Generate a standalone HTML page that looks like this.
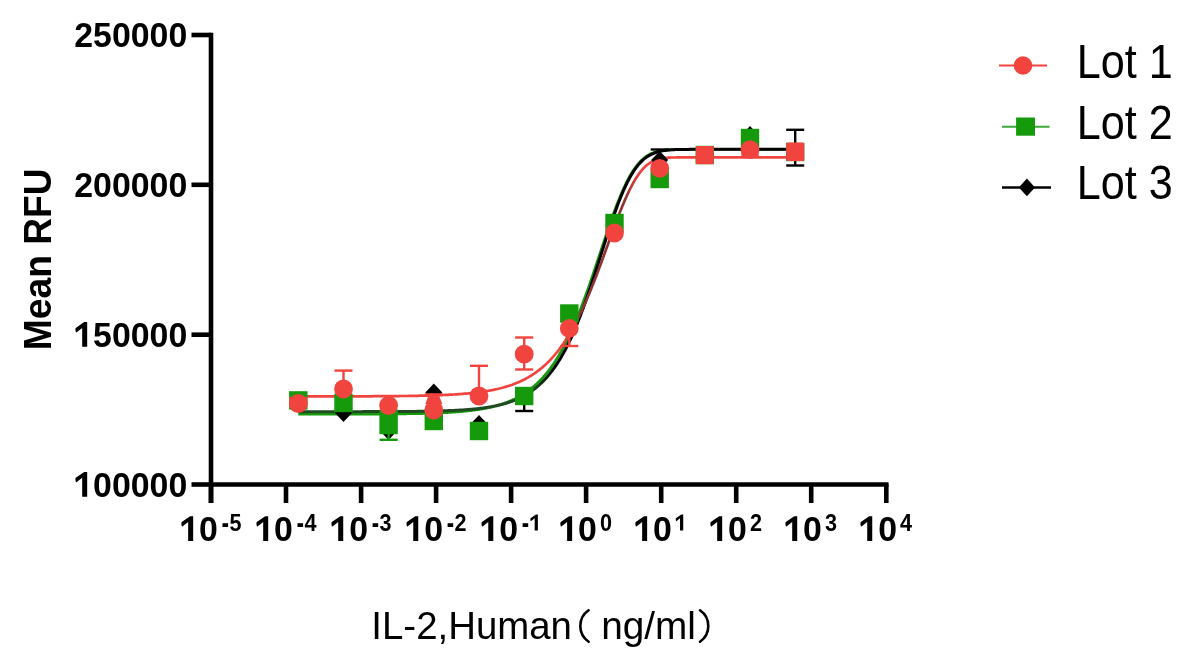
<!DOCTYPE html>
<html><head><meta charset="utf-8"><style>
html,body{margin:0;padding:0;background:#fff;overflow:hidden;}
svg{display:block;filter:blur(0.45px);}
text{font-family:"Liberation Sans",sans-serif;fill:#000;}
</style></head><body>
<svg width="1185" height="660" viewBox="0 0 1185 660">

<defs><linearGradient id="rg" gradientUnits="userSpaceOnUse" x1="0" y1="150" x2="0" y2="400">
<stop offset="0" stop-color="#F2443F"/><stop offset="0.08" stop-color="#F2443F"/><stop offset="0.2" stop-color="#8E3432"/><stop offset="0.66" stop-color="#8E3432"/><stop offset="0.78" stop-color="#F2443F"/><stop offset="1" stop-color="#F2443F"/></linearGradient>
<linearGradient id="kg" gradientUnits="userSpaceOnUse" x1="0" y1="150" x2="0" y2="420">
<stop offset="0" stop-color="#000"/><stop offset="0.8" stop-color="#000"/><stop offset="0.9" stop-color="#1F4A22"/><stop offset="1" stop-color="#1F4A22"/></linearGradient></defs>
<path d="M298.3,414.2 L299.3,414.2 L300.3,414.2 L301.3,414.2 L302.3,414.2 L303.3,414.2 L304.3,414.2 L305.3,414.2 L306.3,414.2 L307.3,414.2 L308.3,414.2 L309.3,414.2 L310.3,414.2 L311.3,414.2 L312.3,414.2 L313.3,414.2 L314.3,414.2 L315.3,414.2 L316.3,414.2 L317.3,414.2 L318.3,414.2 L319.3,414.2 L320.3,414.2 L321.3,414.2 L322.3,414.2 L323.3,414.2 L324.3,414.2 L325.3,414.2 L326.3,414.2 L327.3,414.2 L328.3,414.2 L329.3,414.2 L330.3,414.2 L331.3,414.2 L332.3,414.2 L333.3,414.2 L334.3,414.2 L335.3,414.2 L336.3,414.2 L337.3,414.2 L338.3,414.2 L339.3,414.2 L340.3,414.1 L341.3,414.1 L342.3,414.1 L343.3,414.1 L344.3,414.1 L345.3,414.1 L346.3,414.1 L347.3,414.1 L348.3,414.1 L349.3,414.1 L350.3,414.1 L351.3,414.1 L352.3,414.1 L353.3,414.1 L354.3,414.1 L355.3,414.1 L356.3,414.1 L357.3,414.1 L358.3,414.1 L359.3,414.1 L360.3,414.1 L361.3,414.1 L362.3,414.1 L363.3,414.1 L364.3,414.1 L365.3,414.1 L366.3,414.1 L367.3,414.1 L368.3,414.1 L369.3,414.1 L370.3,414.1 L371.3,414.1 L372.3,414.1 L373.3,414.1 L374.3,414.0 L375.3,414.0 L376.3,414.0 L377.3,414.0 L378.3,414.0 L379.3,414.0 L380.3,414.0 L381.3,414.0 L382.3,414.0 L383.3,414.0 L384.3,414.0 L385.3,414.0 L386.3,414.0 L387.3,414.0 L388.3,414.0 L389.3,413.9 L390.3,413.9 L391.3,413.9 L392.3,413.9 L393.3,413.9 L394.3,413.9 L395.3,413.9 L396.3,413.9 L397.3,413.9 L398.3,413.9 L399.3,413.8 L400.3,413.8 L401.3,413.8 L402.3,413.8 L403.3,413.8 L404.3,413.8 L405.3,413.8 L406.3,413.8 L407.3,413.7 L408.3,413.7 L409.3,413.7 L410.3,413.7 L411.3,413.7 L412.3,413.7 L413.3,413.6 L414.3,413.6 L415.3,413.6 L416.3,413.6 L417.3,413.6 L418.3,413.5 L419.3,413.5 L420.3,413.5 L421.3,413.5 L422.3,413.5 L423.3,413.4 L424.3,413.4 L425.3,413.4 L426.3,413.3 L427.3,413.3 L428.3,413.3 L429.3,413.3 L430.3,413.2 L431.3,413.2 L432.3,413.2 L433.3,413.1 L434.3,413.1 L435.3,413.1 L436.3,413.0 L437.3,413.0 L438.3,412.9 L439.3,412.9 L440.3,412.9 L441.3,412.8 L442.3,412.8 L443.3,412.7 L444.3,412.7 L445.3,412.6 L446.3,412.6 L447.3,412.5 L448.3,412.4 L449.3,412.4 L450.3,412.3 L451.3,412.3 L452.3,412.2 L453.3,412.1 L454.3,412.1 L455.3,412.0 L456.3,411.9 L457.3,411.8 L458.3,411.8 L459.3,411.7 L460.3,411.6 L461.3,411.5 L462.3,411.4 L463.3,411.3 L464.3,411.2 L465.3,411.1 L466.3,411.0 L467.3,410.9 L468.3,410.8 L469.3,410.7 L470.3,410.6 L471.3,410.5 L472.3,410.3 L473.3,410.2 L474.3,410.1 L475.3,409.9 L476.3,409.8 L477.3,409.7 L478.3,409.5 L479.3,409.4 L480.3,409.2 L481.3,409.0 L482.3,408.9 L483.3,408.7 L484.3,408.5 L485.3,408.3 L486.3,408.1 L487.3,407.9 L488.3,407.7 L489.3,407.5 L490.3,407.3 L491.3,407.0 L492.3,406.8 L493.3,406.6 L494.3,406.3 L495.3,406.0 L496.3,405.8 L497.3,405.5 L498.3,405.2 L499.3,404.9 L500.3,404.6 L501.3,404.3 L502.3,404.0 L503.3,403.6 L504.3,403.3 L505.3,402.9 L506.3,402.6 L507.3,402.2 L508.3,401.8 L509.3,401.4 L510.3,401.0 L511.3,400.6 L512.3,400.1 L513.3,399.6 L514.3,399.2 L515.3,398.7 L516.3,398.2 L517.3,397.7 L518.3,397.1 L519.3,396.6 L520.3,396.0 L521.3,395.4 L522.3,394.8 L523.3,394.2 L524.3,393.6 L525.3,392.9 L526.3,392.2 L527.3,391.5 L528.3,390.8 L529.3,390.1 L530.3,389.3 L531.3,388.5 L532.3,387.7 L533.3,386.9 L534.3,386.0 L535.3,385.1 L536.3,384.2 L537.3,383.3 L538.3,382.3 L539.3,381.3 L540.3,380.3 L541.3,379.3 L542.3,378.2 L543.3,377.1 L544.3,375.9 L545.3,374.8 L546.3,373.6 L547.3,372.3 L548.3,371.1 L549.3,369.8 L550.3,368.4 L551.3,367.0 L552.3,365.6 L553.3,364.2 L554.3,362.7 L555.3,361.2 L556.3,359.6 L557.3,358.0 L558.3,356.4 L559.3,354.7 L560.3,353.0 L561.3,351.3 L562.3,349.5 L563.3,347.6 L564.3,345.7 L565.3,343.8 L566.3,341.9 L567.3,339.9 L568.3,337.8 L569.3,335.7 L570.3,333.6 L571.3,331.4 L572.3,329.2 L573.3,326.9 L574.3,324.6 L575.3,322.3 L576.3,319.9 L577.3,317.4 L578.3,315.0 L579.3,312.5 L580.3,309.9 L581.3,307.3 L582.3,304.7 L583.3,302.0 L584.3,299.3 L585.3,296.6 L586.3,293.8 L587.3,291.1 L588.3,288.2 L589.3,285.4 L590.3,282.5 L591.3,279.6 L592.3,276.7 L593.3,273.7 L594.3,270.7 L595.3,267.7 L596.3,264.8 L597.3,261.7 L598.3,258.7 L599.3,255.7 L600.3,252.7 L601.3,249.6 L602.3,246.6 L603.3,243.6 L604.3,240.6 L605.3,237.6 L606.3,234.6 L607.3,231.6 L608.3,228.7 L609.3,225.8 L610.3,222.9 L611.3,220.0 L612.3,217.2 L613.3,214.4 L614.3,211.7 L615.3,209.0 L616.3,206.3 L617.3,203.7 L618.3,201.2 L619.3,198.7 L620.3,196.2 L621.3,193.8 L622.3,191.5 L623.3,189.3 L624.3,187.1 L625.3,185.0 L626.3,182.9 L627.3,180.9 L628.3,179.0 L629.3,177.2 L630.3,175.4 L631.3,173.7 L632.3,172.1 L633.3,170.5 L634.3,169.0 L635.3,167.6 L636.3,166.3 L637.3,165.0 L638.3,163.8 L639.3,162.7 L640.3,161.6 L641.3,160.6 L642.3,159.7 L643.3,158.8 L644.3,158.0 L645.3,157.2 L646.3,156.5 L647.3,155.8 L648.3,155.2 L649.3,154.6 L650.3,154.1 L651.3,153.6 L652.3,153.2 L653.3,152.8 L654.3,152.4 L655.3,152.1 L656.3,151.8 L657.3,151.5 L658.3,151.2 L659.3,151.0 L660.3,150.8 L661.3,150.6 L662.3,150.5 L663.3,150.3 L664.3,150.2 L665.3,150.1 L666.3,150.0 L667.3,149.9 L668.3,149.8 L669.3,149.7 L670.3,149.7 L671.3,149.6 L672.3,149.6 L673.3,149.5 L674.3,149.5 L675.3,149.5 L676.3,149.5 L677.3,149.4 L678.3,149.4 L679.3,149.4 L680.3,149.4 L681.3,149.4 L682.3,149.4 L683.3,149.3 L684.3,149.3 L685.3,149.3 L686.3,149.3 L687.3,149.3 L688.3,149.3 L689.3,149.3 L690.3,149.3 L691.3,149.3 L692.3,149.3 L693.3,149.3 L694.3,149.3 L695.3,149.3 L696.3,149.3 L697.3,149.3 L698.3,149.3 L699.3,149.3 L700.3,149.3 L701.3,149.3 L702.3,149.3 L703.3,149.3 L704.3,149.3 L705.3,149.3 L706.3,149.3 L707.3,149.3 L708.3,149.3 L709.3,149.3 L710.3,149.3 L711.3,149.3 L712.3,149.3 L713.3,149.3 L714.3,149.3 L715.3,149.3 L716.3,149.3 L717.3,149.3 L718.3,149.3 L719.3,149.3 L720.3,149.3 L721.3,149.3 L722.3,149.3 L723.3,149.3 L724.3,149.3 L725.3,149.3 L726.3,149.3 L727.3,149.3 L728.3,149.3 L729.3,149.3 L730.3,149.3 L731.3,149.3 L732.3,149.3 L733.3,149.3 L734.3,149.3 L735.3,149.3 L736.3,149.3 L737.3,149.3 L738.3,149.3 L739.3,149.3 L740.3,149.3 L741.3,149.3 L742.3,149.3 L743.3,149.3 L744.3,149.3 L745.3,149.3 L746.3,149.3 L747.3,149.3 L748.3,149.3 L749.3,149.3 L750.3,149.3 L751.3,149.3 L752.3,149.3 L753.3,149.3 L754.3,149.3 L755.3,149.3 L756.3,149.3 L757.3,149.3 L758.3,149.3 L759.3,149.3 L760.3,149.3 L761.3,149.3 L762.3,149.3 L763.3,149.3 L764.3,149.3 L765.3,149.3 L766.3,149.3 L767.3,149.3 L768.3,149.3 L769.3,149.3 L770.3,149.3 L771.3,149.3 L772.3,149.3 L773.3,149.3 L774.3,149.3 L775.3,149.3 L776.3,149.3 L777.3,149.3 L778.3,149.3 L779.3,149.3 L780.3,149.3 L781.3,149.3 L782.3,149.3 L783.3,149.3 L784.3,149.3 L785.3,149.3 L786.3,149.3 L787.3,149.3 L788.3,149.3 L789.3,149.3 L790.3,149.3 L791.3,149.3 L792.3,149.3 L793.3,149.3 L794.3,149.3" fill="none" stroke="#159A0C" stroke-width="2.8" stroke-linejoin="round" stroke-linecap="butt"/>
<path d="M298.3,411.7 L299.3,411.7 L300.3,411.7 L301.3,411.7 L302.3,411.7 L303.3,411.7 L304.3,411.7 L305.3,411.7 L306.3,411.7 L307.3,411.7 L308.3,411.7 L309.3,411.7 L310.3,411.7 L311.3,411.7 L312.3,411.7 L313.3,411.7 L314.3,411.7 L315.3,411.7 L316.3,411.7 L317.3,411.7 L318.3,411.7 L319.3,411.7 L320.3,411.7 L321.3,411.7 L322.3,411.7 L323.3,411.7 L324.3,411.7 L325.3,411.7 L326.3,411.7 L327.3,411.7 L328.3,411.7 L329.3,411.7 L330.3,411.7 L331.3,411.7 L332.3,411.7 L333.3,411.7 L334.3,411.7 L335.3,411.7 L336.3,411.7 L337.3,411.7 L338.3,411.7 L339.3,411.7 L340.3,411.7 L341.3,411.7 L342.3,411.7 L343.3,411.7 L344.3,411.7 L345.3,411.7 L346.3,411.7 L347.3,411.7 L348.3,411.7 L349.3,411.7 L350.3,411.7 L351.3,411.7 L352.3,411.7 L353.3,411.7 L354.3,411.7 L355.3,411.7 L356.3,411.7 L357.3,411.7 L358.3,411.7 L359.3,411.7 L360.3,411.7 L361.3,411.7 L362.3,411.7 L363.3,411.6 L364.3,411.6 L365.3,411.6 L366.3,411.6 L367.3,411.6 L368.3,411.6 L369.3,411.6 L370.3,411.6 L371.3,411.6 L372.3,411.6 L373.3,411.6 L374.3,411.6 L375.3,411.6 L376.3,411.6 L377.3,411.6 L378.3,411.6 L379.3,411.6 L380.3,411.6 L381.3,411.6 L382.3,411.6 L383.3,411.6 L384.3,411.6 L385.3,411.6 L386.3,411.6 L387.3,411.6 L388.3,411.6 L389.3,411.6 L390.3,411.6 L391.3,411.6 L392.3,411.6 L393.3,411.6 L394.3,411.5 L395.3,411.5 L396.3,411.5 L397.3,411.5 L398.3,411.5 L399.3,411.5 L400.3,411.5 L401.3,411.5 L402.3,411.5 L403.3,411.5 L404.3,411.5 L405.3,411.5 L406.3,411.5 L407.3,411.5 L408.3,411.4 L409.3,411.4 L410.3,411.4 L411.3,411.4 L412.3,411.4 L413.3,411.4 L414.3,411.4 L415.3,411.4 L416.3,411.4 L417.3,411.3 L418.3,411.3 L419.3,411.3 L420.3,411.3 L421.3,411.3 L422.3,411.3 L423.3,411.3 L424.3,411.2 L425.3,411.2 L426.3,411.2 L427.3,411.2 L428.3,411.2 L429.3,411.2 L430.3,411.1 L431.3,411.1 L432.3,411.1 L433.3,411.1 L434.3,411.1 L435.3,411.0 L436.3,411.0 L437.3,411.0 L438.3,411.0 L439.3,410.9 L440.3,410.9 L441.3,410.9 L442.3,410.8 L443.3,410.8 L444.3,410.8 L445.3,410.7 L446.3,410.7 L447.3,410.7 L448.3,410.6 L449.3,410.6 L450.3,410.6 L451.3,410.5 L452.3,410.5 L453.3,410.4 L454.3,410.4 L455.3,410.3 L456.3,410.3 L457.3,410.2 L458.3,410.2 L459.3,410.1 L460.3,410.1 L461.3,410.0 L462.3,409.9 L463.3,409.9 L464.3,409.8 L465.3,409.7 L466.3,409.7 L467.3,409.6 L468.3,409.5 L469.3,409.4 L470.3,409.3 L471.3,409.3 L472.3,409.2 L473.3,409.1 L474.3,409.0 L475.3,408.9 L476.3,408.8 L477.3,408.7 L478.3,408.6 L479.3,408.4 L480.3,408.3 L481.3,408.2 L482.3,408.1 L483.3,407.9 L484.3,407.8 L485.3,407.7 L486.3,407.5 L487.3,407.4 L488.3,407.2 L489.3,407.0 L490.3,406.9 L491.3,406.7 L492.3,406.5 L493.3,406.3 L494.3,406.1 L495.3,405.9 L496.3,405.7 L497.3,405.5 L498.3,405.3 L499.3,405.1 L500.3,404.8 L501.3,404.6 L502.3,404.3 L503.3,404.0 L504.3,403.8 L505.3,403.5 L506.3,403.2 L507.3,402.9 L508.3,402.6 L509.3,402.2 L510.3,401.9 L511.3,401.5 L512.3,401.2 L513.3,400.8 L514.3,400.4 L515.3,400.0 L516.3,399.6 L517.3,399.2 L518.3,398.7 L519.3,398.3 L520.3,397.8 L521.3,397.3 L522.3,396.8 L523.3,396.3 L524.3,395.7 L525.3,395.1 L526.3,394.6 L527.3,394.0 L528.3,393.3 L529.3,392.7 L530.3,392.0 L531.3,391.3 L532.3,390.6 L533.3,389.9 L534.3,389.1 L535.3,388.4 L536.3,387.5 L537.3,386.7 L538.3,385.9 L539.3,385.0 L540.3,384.0 L541.3,383.1 L542.3,382.1 L543.3,381.1 L544.3,380.1 L545.3,379.0 L546.3,377.9 L547.3,376.8 L548.3,375.6 L549.3,374.4 L550.3,373.1 L551.3,371.9 L552.3,370.5 L553.3,369.2 L554.3,367.8 L555.3,366.4 L556.3,364.9 L557.3,363.4 L558.3,361.8 L559.3,360.2 L560.3,358.6 L561.3,356.9 L562.3,355.1 L563.3,353.4 L564.3,351.5 L565.3,349.7 L566.3,347.8 L567.3,345.8 L568.3,343.8 L569.3,341.7 L570.3,339.6 L571.3,337.5 L572.3,335.3 L573.3,333.0 L574.3,330.7 L575.3,328.4 L576.3,326.0 L577.3,323.5 L578.3,321.0 L579.3,318.5 L580.3,315.9 L581.3,313.3 L582.3,310.6 L583.3,307.9 L584.3,305.2 L585.3,302.4 L586.3,299.5 L587.3,296.7 L588.3,293.8 L589.3,290.8 L590.3,287.9 L591.3,284.9 L592.3,281.8 L593.3,278.8 L594.3,275.7 L595.3,272.6 L596.3,269.5 L597.3,266.4 L598.3,263.2 L599.3,260.1 L600.3,256.9 L601.3,253.8 L602.3,250.6 L603.3,247.5 L604.3,244.4 L605.3,241.2 L606.3,238.1 L607.3,235.0 L608.3,232.0 L609.3,228.9 L610.3,225.9 L611.3,222.9 L612.3,220.0 L613.3,217.1 L614.3,214.2 L615.3,211.4 L616.3,208.7 L617.3,206.0 L618.3,203.3 L619.3,200.7 L620.3,198.2 L621.3,195.7 L622.3,193.3 L623.3,191.0 L624.3,188.8 L625.3,186.6 L626.3,184.5 L627.3,182.4 L628.3,180.5 L629.3,178.6 L630.3,176.8 L631.3,175.0 L632.3,173.3 L633.3,171.8 L634.3,170.2 L635.3,168.8 L636.3,167.4 L637.3,166.1 L638.3,164.9 L639.3,163.7 L640.3,162.6 L641.3,161.6 L642.3,160.6 L643.3,159.7 L644.3,158.9 L645.3,158.1 L646.3,157.3 L647.3,156.6 L648.3,156.0 L649.3,155.4 L650.3,154.9 L651.3,154.4 L652.3,153.9 L653.3,153.5 L654.3,153.1 L655.3,152.7 L656.3,152.4 L657.3,152.1 L658.3,151.8 L659.3,151.5 L660.3,151.3 L661.3,151.1 L662.3,150.9 L663.3,150.7 L664.3,150.6 L665.3,150.4 L666.3,150.3 L667.3,150.2 L668.3,150.1 L669.3,150.0 L670.3,149.9 L671.3,149.8 L672.3,149.8 L673.3,149.7 L674.3,149.7 L675.3,149.6 L676.3,149.6 L677.3,149.6 L678.3,149.5 L679.3,149.5 L680.3,149.5 L681.3,149.4 L682.3,149.4 L683.3,149.4 L684.3,149.4 L685.3,149.4 L686.3,149.4 L687.3,149.4 L688.3,149.4 L689.3,149.3 L690.3,149.3 L691.3,149.3 L692.3,149.3 L693.3,149.3 L694.3,149.3 L695.3,149.3 L696.3,149.3 L697.3,149.3 L698.3,149.3 L699.3,149.3 L700.3,149.3 L701.3,149.3 L702.3,149.3 L703.3,149.3 L704.3,149.3 L705.3,149.3 L706.3,149.3 L707.3,149.3 L708.3,149.3 L709.3,149.3 L710.3,149.3 L711.3,149.3 L712.3,149.3 L713.3,149.3 L714.3,149.3 L715.3,149.3 L716.3,149.3 L717.3,149.3 L718.3,149.3 L719.3,149.3 L720.3,149.3 L721.3,149.3 L722.3,149.3 L723.3,149.3 L724.3,149.3 L725.3,149.3 L726.3,149.3 L727.3,149.3 L728.3,149.3 L729.3,149.3 L730.3,149.3 L731.3,149.3 L732.3,149.3 L733.3,149.3 L734.3,149.3 L735.3,149.3 L736.3,149.3 L737.3,149.3 L738.3,149.3 L739.3,149.3 L740.3,149.3 L741.3,149.3 L742.3,149.3 L743.3,149.3 L744.3,149.3 L745.3,149.3 L746.3,149.3 L747.3,149.3 L748.3,149.3 L749.3,149.3 L750.3,149.3 L751.3,149.3 L752.3,149.3 L753.3,149.3 L754.3,149.3 L755.3,149.3 L756.3,149.3 L757.3,149.3 L758.3,149.3 L759.3,149.3 L760.3,149.3 L761.3,149.3 L762.3,149.3 L763.3,149.3 L764.3,149.3 L765.3,149.3 L766.3,149.3 L767.3,149.3 L768.3,149.3 L769.3,149.3 L770.3,149.3 L771.3,149.3 L772.3,149.3 L773.3,149.3 L774.3,149.3 L775.3,149.3 L776.3,149.3 L777.3,149.3 L778.3,149.3 L779.3,149.3 L780.3,149.3 L781.3,149.3 L782.3,149.3 L783.3,149.3 L784.3,149.3 L785.3,149.3 L786.3,149.3 L787.3,149.3 L788.3,149.3 L789.3,149.3 L790.3,149.3 L791.3,149.3 L792.3,149.3 L793.3,149.3 L794.3,149.3" fill="none" stroke="url(#kg)" stroke-width="3.0" stroke-linejoin="round" stroke-linecap="butt"/>
<path d="M298.3,396.4 L299.3,396.4 L300.3,396.4 L301.3,396.4 L302.3,396.4 L303.3,396.4 L304.3,396.4 L305.3,396.4 L306.3,396.4 L307.3,396.4 L308.3,396.4 L309.3,396.4 L310.3,396.4 L311.3,396.4 L312.3,396.4 L313.3,396.4 L314.3,396.4 L315.3,396.4 L316.3,396.4 L317.3,396.4 L318.3,396.4 L319.3,396.4 L320.3,396.4 L321.3,396.4 L322.3,396.4 L323.3,396.4 L324.3,396.4 L325.3,396.4 L326.3,396.4 L327.3,396.4 L328.3,396.4 L329.3,396.4 L330.3,396.4 L331.3,396.4 L332.3,396.4 L333.3,396.4 L334.3,396.4 L335.3,396.4 L336.3,396.4 L337.3,396.4 L338.3,396.3 L339.3,396.3 L340.3,396.3 L341.3,396.3 L342.3,396.3 L343.3,396.3 L344.3,396.3 L345.3,396.3 L346.3,396.3 L347.3,396.3 L348.3,396.3 L349.3,396.3 L350.3,396.3 L351.3,396.3 L352.3,396.3 L353.3,396.3 L354.3,396.3 L355.3,396.3 L356.3,396.3 L357.3,396.3 L358.3,396.3 L359.3,396.3 L360.3,396.3 L361.3,396.3 L362.3,396.3 L363.3,396.3 L364.3,396.3 L365.3,396.3 L366.3,396.3 L367.3,396.3 L368.3,396.3 L369.3,396.3 L370.3,396.3 L371.3,396.3 L372.3,396.3 L373.3,396.2 L374.3,396.2 L375.3,396.2 L376.3,396.2 L377.3,396.2 L378.3,396.2 L379.3,396.2 L380.3,396.2 L381.3,396.2 L382.3,396.2 L383.3,396.2 L384.3,396.2 L385.3,396.2 L386.3,396.2 L387.3,396.2 L388.3,396.2 L389.3,396.1 L390.3,396.1 L391.3,396.1 L392.3,396.1 L393.3,396.1 L394.3,396.1 L395.3,396.1 L396.3,396.1 L397.3,396.1 L398.3,396.1 L399.3,396.1 L400.3,396.0 L401.3,396.0 L402.3,396.0 L403.3,396.0 L404.3,396.0 L405.3,396.0 L406.3,396.0 L407.3,396.0 L408.3,395.9 L409.3,395.9 L410.3,395.9 L411.3,395.9 L412.3,395.9 L413.3,395.9 L414.3,395.8 L415.3,395.8 L416.3,395.8 L417.3,395.8 L418.3,395.8 L419.3,395.7 L420.3,395.7 L421.3,395.7 L422.3,395.7 L423.3,395.7 L424.3,395.6 L425.3,395.6 L426.3,395.6 L427.3,395.6 L428.3,395.5 L429.3,395.5 L430.3,395.5 L431.3,395.5 L432.3,395.4 L433.3,395.4 L434.3,395.4 L435.3,395.3 L436.3,395.3 L437.3,395.3 L438.3,395.2 L439.3,395.2 L440.3,395.1 L441.3,395.1 L442.3,395.1 L443.3,395.0 L444.3,395.0 L445.3,394.9 L446.3,394.9 L447.3,394.8 L448.3,394.8 L449.3,394.7 L450.3,394.7 L451.3,394.6 L452.3,394.6 L453.3,394.5 L454.3,394.5 L455.3,394.4 L456.3,394.3 L457.3,394.3 L458.3,394.2 L459.3,394.1 L460.3,394.1 L461.3,394.0 L462.3,393.9 L463.3,393.8 L464.3,393.7 L465.3,393.7 L466.3,393.6 L467.3,393.5 L468.3,393.4 L469.3,393.3 L470.3,393.2 L471.3,393.1 L472.3,393.0 L473.3,392.9 L474.3,392.8 L475.3,392.7 L476.3,392.5 L477.3,392.4 L478.3,392.3 L479.3,392.2 L480.3,392.0 L481.3,391.9 L482.3,391.7 L483.3,391.6 L484.3,391.5 L485.3,391.3 L486.3,391.1 L487.3,391.0 L488.3,390.8 L489.3,390.6 L490.3,390.4 L491.3,390.3 L492.3,390.1 L493.3,389.9 L494.3,389.7 L495.3,389.4 L496.3,389.2 L497.3,389.0 L498.3,388.8 L499.3,388.5 L500.3,388.3 L501.3,388.0 L502.3,387.8 L503.3,387.5 L504.3,387.2 L505.3,386.9 L506.3,386.6 L507.3,386.3 L508.3,386.0 L509.3,385.7 L510.3,385.4 L511.3,385.0 L512.3,384.7 L513.3,384.3 L514.3,383.9 L515.3,383.5 L516.3,383.1 L517.3,382.7 L518.3,382.3 L519.3,381.9 L520.3,381.4 L521.3,381.0 L522.3,380.5 L523.3,380.0 L524.3,379.5 L525.3,379.0 L526.3,378.4 L527.3,377.9 L528.3,377.3 L529.3,376.7 L530.3,376.1 L531.3,375.5 L532.3,374.9 L533.3,374.2 L534.3,373.6 L535.3,372.9 L536.3,372.2 L537.3,371.4 L538.3,370.7 L539.3,369.9 L540.3,369.1 L541.3,368.3 L542.3,367.5 L543.3,366.6 L544.3,365.7 L545.3,364.8 L546.3,363.9 L547.3,362.9 L548.3,361.9 L549.3,360.9 L550.3,359.9 L551.3,358.8 L552.3,357.7 L553.3,356.6 L554.3,355.4 L555.3,354.3 L556.3,353.0 L557.3,351.8 L558.3,350.5 L559.3,349.2 L560.3,347.9 L561.3,346.5 L562.3,345.1 L563.3,343.7 L564.3,342.2 L565.3,340.7 L566.3,339.1 L567.3,337.6 L568.3,335.9 L569.3,334.3 L570.3,332.6 L571.3,330.9 L572.3,329.1 L573.3,327.3 L574.3,325.5 L575.3,323.6 L576.3,321.7 L577.3,319.7 L578.3,317.7 L579.3,315.7 L580.3,313.7 L581.3,311.6 L582.3,309.4 L583.3,307.2 L584.3,305.0 L585.3,302.8 L586.3,300.5 L587.3,298.2 L588.3,295.8 L589.3,293.4 L590.3,291.0 L591.3,288.6 L592.3,286.1 L593.3,283.6 L594.3,281.0 L595.3,278.5 L596.3,275.9 L597.3,273.2 L598.3,270.6 L599.3,267.9 L600.3,265.3 L601.3,262.6 L602.3,259.8 L603.3,257.1 L604.3,254.4 L605.3,251.6 L606.3,248.9 L607.3,246.1 L608.3,243.4 L609.3,240.6 L610.3,237.8 L611.3,235.1 L612.3,232.4 L613.3,229.7 L614.3,227.0 L615.3,224.3 L616.3,221.6 L617.3,219.0 L618.3,216.4 L619.3,213.8 L620.3,211.3 L621.3,208.8 L622.3,206.3 L623.3,203.9 L624.3,201.5 L625.3,199.2 L626.3,197.0 L627.3,194.8 L628.3,192.6 L629.3,190.5 L630.3,188.5 L631.3,186.6 L632.3,184.7 L633.3,182.8 L634.3,181.1 L635.3,179.4 L636.3,177.8 L637.3,176.3 L638.3,174.8 L639.3,173.4 L640.3,172.1 L641.3,170.8 L642.3,169.7 L643.3,168.5 L644.3,167.5 L645.3,166.5 L646.3,165.6 L647.3,164.8 L648.3,164.0 L649.3,163.3 L650.3,162.7 L651.3,162.1 L652.3,161.5 L653.3,161.0 L654.3,160.6 L655.3,160.1 L656.3,159.8 L657.3,159.5 L658.3,159.2 L659.3,158.9 L660.3,158.7 L661.3,158.5 L662.3,158.3 L663.3,158.2 L664.3,158.0 L665.3,157.9 L666.3,157.8 L667.3,157.8 L668.3,157.7 L669.3,157.6 L670.3,157.6 L671.3,157.5 L672.3,157.5 L673.3,157.5 L674.3,157.5 L675.3,157.5 L676.3,157.4 L677.3,157.4 L678.3,157.4 L679.3,157.4 L680.3,157.4 L681.3,157.4 L682.3,157.4 L683.3,157.4 L684.3,157.4 L685.3,157.4 L686.3,157.4 L687.3,157.4 L688.3,157.4 L689.3,157.4 L690.3,157.4 L691.3,157.4 L692.3,157.4 L693.3,157.4 L694.3,157.4 L695.3,157.4 L696.3,157.4 L697.3,157.4 L698.3,157.4 L699.3,157.4 L700.3,157.4 L701.3,157.4 L702.3,157.4 L703.3,157.4 L704.3,157.4 L705.3,157.4 L706.3,157.4 L707.3,157.4 L708.3,157.4 L709.3,157.4 L710.3,157.4 L711.3,157.4 L712.3,157.4 L713.3,157.4 L714.3,157.4 L715.3,157.4 L716.3,157.4 L717.3,157.4 L718.3,157.4 L719.3,157.4 L720.3,157.4 L721.3,157.4 L722.3,157.4 L723.3,157.4 L724.3,157.4 L725.3,157.4 L726.3,157.4 L727.3,157.4 L728.3,157.4 L729.3,157.4 L730.3,157.4 L731.3,157.4 L732.3,157.4 L733.3,157.4 L734.3,157.4 L735.3,157.4 L736.3,157.4 L737.3,157.4 L738.3,157.4 L739.3,157.4 L740.3,157.4 L741.3,157.4 L742.3,157.4 L743.3,157.4 L744.3,157.4 L745.3,157.4 L746.3,157.4 L747.3,157.4 L748.3,157.4 L749.3,157.4 L750.3,157.4 L751.3,157.4 L752.3,157.4 L753.3,157.4 L754.3,157.4 L755.3,157.4 L756.3,157.4 L757.3,157.4 L758.3,157.4 L759.3,157.4 L760.3,157.4 L761.3,157.4 L762.3,157.4 L763.3,157.4 L764.3,157.4 L765.3,157.4 L766.3,157.4 L767.3,157.4 L768.3,157.4 L769.3,157.4 L770.3,157.4 L771.3,157.4 L772.3,157.4 L773.3,157.4 L774.3,157.4 L775.3,157.4 L776.3,157.4 L777.3,157.4 L778.3,157.4 L779.3,157.4 L780.3,157.4 L781.3,157.4 L782.3,157.4 L783.3,157.4 L784.3,157.4 L785.3,157.4 L786.3,157.4 L787.3,157.4 L788.3,157.4 L789.3,157.4 L790.3,157.4 L791.3,157.4 L792.3,157.4 L793.3,157.4 L794.3,157.4" fill="none" stroke="url(#rg)" stroke-width="2.7" stroke-linejoin="round" stroke-linecap="butt"/>
<line x1="524.2" y1="396.0" x2="524.2" y2="411.0" stroke="#000000" stroke-width="2.4"/><line x1="515.2" y1="411.0" x2="533.2" y2="411.0" stroke="#000000" stroke-width="2.4"/>
<line x1="659.7" y1="160.0" x2="659.7" y2="149.5" stroke="#000000" stroke-width="2.4"/><line x1="650.7" y1="149.5" x2="668.7" y2="149.5" stroke="#000000" stroke-width="2.4"/>
<line x1="795.2" y1="151.7" x2="795.2" y2="129.8" stroke="#000000" stroke-width="2.4"/><line x1="786.2" y1="129.8" x2="804.2" y2="129.8" stroke="#000000" stroke-width="2.4"/><line x1="795.2" y1="151.7" x2="795.2" y2="165.5" stroke="#000000" stroke-width="2.4"/><line x1="786.2" y1="165.5" x2="804.2" y2="165.5" stroke="#000000" stroke-width="2.4"/>
<path d="M298.3,393.0 L306.8,402.0 L298.3,411.0 L289.8,402.0Z" fill="#000000"/>
<path d="M343.5,404.0 L352.0,413.0 L343.5,422.0 L335.0,413.0Z" fill="#000000"/>
<path d="M388.6,422.0 L397.1,431.0 L388.6,440.0 L380.1,431.0Z" fill="#000000"/>
<path d="M433.8,383.5 L442.3,392.5 L433.8,401.5 L425.3,392.5Z" fill="#000000"/>
<path d="M479.0,415.0 L487.5,424.0 L479.0,433.0 L470.5,424.0Z" fill="#000000"/>
<path d="M524.2,387.0 L532.7,396.0 L524.2,405.0 L515.7,396.0Z" fill="#000000"/>
<path d="M569.3,311.0 L577.8,320.0 L569.3,329.0 L560.8,320.0Z" fill="#000000"/>
<path d="M614.5,213.0 L623.0,222.0 L614.5,231.0 L606.0,222.0Z" fill="#000000"/>
<path d="M659.7,151.0 L668.2,160.0 L659.7,169.0 L651.2,160.0Z" fill="#000000"/>
<path d="M704.8,146.0 L713.3,155.0 L704.8,164.0 L696.3,155.0Z" fill="#000000"/>
<path d="M750.0,126.0 L758.5,135.0 L750.0,144.0 L741.5,135.0Z" fill="#000000"/>
<path d="M795.2,142.7 L803.7,151.7 L795.2,160.7 L786.7,151.7Z" fill="#000000"/>
<line x1="388.6" y1="425.0" x2="388.6" y2="439.8" stroke="#159A0C" stroke-width="2.4"/><line x1="379.6" y1="439.8" x2="397.6" y2="439.8" stroke="#159A0C" stroke-width="2.4"/>
<rect x="289.1" y="391.2" width="18.4" height="18.4" fill="#159A0C"/>
<rect x="334.3" y="393.8" width="18.4" height="18.4" fill="#159A0C"/>
<rect x="379.4" y="409.5" width="18.4" height="24.7" fill="#159A0C"/>
<rect x="424.6" y="411.8" width="18.4" height="18.4" fill="#159A0C"/>
<rect x="469.8" y="421.8" width="18.4" height="18.4" fill="#159A0C"/>
<rect x="515.0" y="386.8" width="18.4" height="18.4" fill="#159A0C"/>
<rect x="560.1" y="304.3" width="18.4" height="18.4" fill="#159A0C"/>
<rect x="605.3" y="213.8" width="18.4" height="18.4" fill="#159A0C"/>
<rect x="650.5" y="169.8" width="18.4" height="18.4" fill="#159A0C"/>
<rect x="695.6" y="145.8" width="18.4" height="18.4" fill="#159A0C"/>
<rect x="740.8" y="128.8" width="18.4" height="18.4" fill="#159A0C"/>
<rect x="786.0" y="142.8" width="18.4" height="18.4" fill="#159A0C"/>
<line x1="343.5" y1="389.0" x2="343.5" y2="370.6" stroke="#F2443F" stroke-width="2.4"/><line x1="334.5" y1="370.6" x2="352.5" y2="370.6" stroke="#F2443F" stroke-width="2.4"/>
<line x1="433.8" y1="410.0" x2="433.8" y2="394.5" stroke="#F2443F" stroke-width="2.4"/><line x1="424.8" y1="394.5" x2="442.8" y2="394.5" stroke="#F2443F" stroke-width="2.4"/>
<line x1="479.0" y1="396.0" x2="479.0" y2="365.8" stroke="#F2443F" stroke-width="2.4"/><line x1="470.0" y1="365.8" x2="488.0" y2="365.8" stroke="#F2443F" stroke-width="2.4"/>
<line x1="524.2" y1="354.2" x2="524.2" y2="337.5" stroke="#F2443F" stroke-width="2.4"/><line x1="515.2" y1="337.5" x2="533.2" y2="337.5" stroke="#F2443F" stroke-width="2.4"/><line x1="524.2" y1="354.2" x2="524.2" y2="369.5" stroke="#F2443F" stroke-width="2.4"/><line x1="515.2" y1="369.5" x2="533.2" y2="369.5" stroke="#F2443F" stroke-width="2.4"/>
<line x1="569.3" y1="328.4" x2="569.3" y2="346.0" stroke="#F2443F" stroke-width="2.4"/><line x1="560.3" y1="346.0" x2="578.3" y2="346.0" stroke="#F2443F" stroke-width="2.4"/>
<circle cx="298.3" cy="403.5" r="9.4" fill="#F2443F"/>
<rect x="289.2" y="397" width="18.2" height="10" fill="#F2443F"/>
<circle cx="343.5" cy="389.0" r="9.4" fill="#F2443F"/>
<circle cx="388.6" cy="405.5" r="9.4" fill="#F2443F"/>
<circle cx="433.8" cy="410.0" r="9.4" fill="#F2443F"/>
<path d="M429.3,393.5 L438.3,393.5 L442.3,404 L425.3,404Z" fill="#F2443F"/>
<circle cx="479.0" cy="396.0" r="9.4" fill="#F2443F"/>
<circle cx="524.2" cy="354.2" r="9.4" fill="#F2443F"/>
<circle cx="569.3" cy="328.4" r="9.4" fill="#F2443F"/>
<circle cx="614.5" cy="233.0" r="9.4" fill="#F2443F"/>
<circle cx="659.7" cy="168.4" r="9.4" fill="#F2443F"/>
<rect x="695.8" y="145.9" width="18" height="18.4" rx="1.5" fill="#F2443F"/>
<circle cx="750.0" cy="149.6" r="9.4" fill="#F2443F"/>
<rect x="741.4" y="149.6" width="17.2" height="8" fill="#F2443F"/>
<rect x="786.2" y="142.5" width="18" height="18.4" rx="1.5" fill="#F2443F"/>
<line x1="211.0" y1="32.7" x2="211.0" y2="503" stroke="#000" stroke-width="4.6"/>
<line x1="208.7" y1="484.5" x2="888.5699999999999" y2="484.5" stroke="#000" stroke-width="4.6"/>
<line x1="191.5" y1="35.0" x2="211.0" y2="35.0" stroke="#000" stroke-width="4.6"/>
<text transform="translate(74.28,47.20) scale(0.9400,1)" font-size="36.00" font-weight="bold">2</text><text transform="translate(93.10,47.20) scale(0.9400,1)" font-size="36.00" font-weight="bold">5</text><text transform="translate(111.92,47.20) scale(0.9400,1)" font-size="36.00" font-weight="bold">0</text><text transform="translate(130.74,47.20) scale(0.9400,1)" font-size="36.00" font-weight="bold">0</text><text transform="translate(149.56,47.20) scale(0.9400,1)" font-size="36.00" font-weight="bold">0</text><text transform="translate(168.38,47.20) scale(0.9400,1)" font-size="36.00" font-weight="bold">0</text>
<line x1="191.5" y1="184.8" x2="211.0" y2="184.8" stroke="#000" stroke-width="4.6"/>
<text transform="translate(74.28,197.03) scale(0.9400,1)" font-size="36.00" font-weight="bold">2</text><text transform="translate(93.10,197.03) scale(0.9400,1)" font-size="36.00" font-weight="bold">0</text><text transform="translate(111.92,197.03) scale(0.9400,1)" font-size="36.00" font-weight="bold">0</text><text transform="translate(130.74,197.03) scale(0.9400,1)" font-size="36.00" font-weight="bold">0</text><text transform="translate(149.56,197.03) scale(0.9400,1)" font-size="36.00" font-weight="bold">0</text><text transform="translate(168.38,197.03) scale(0.9400,1)" font-size="36.00" font-weight="bold">0</text>
<line x1="191.5" y1="334.7" x2="211.0" y2="334.7" stroke="#000" stroke-width="4.6"/>
<path transform="translate(74.28,346.87) scale(0.016523,-0.017578)" d="M478,0 L781,0 L781,1409 L600,1409 L90,1075 Q60,1050 70,960 L85,870 Q100,800 150,835 L478,1079 Z"/><text transform="translate(93.10,346.87) scale(0.9400,1)" font-size="36.00" font-weight="bold">5</text><text transform="translate(111.92,346.87) scale(0.9400,1)" font-size="36.00" font-weight="bold">0</text><text transform="translate(130.74,346.87) scale(0.9400,1)" font-size="36.00" font-weight="bold">0</text><text transform="translate(149.56,346.87) scale(0.9400,1)" font-size="36.00" font-weight="bold">0</text><text transform="translate(168.38,346.87) scale(0.9400,1)" font-size="36.00" font-weight="bold">0</text>
<line x1="191.5" y1="484.5" x2="211.0" y2="484.5" stroke="#000" stroke-width="4.6"/>
<path transform="translate(74.28,496.70) scale(0.016523,-0.017578)" d="M478,0 L781,0 L781,1409 L600,1409 L90,1075 Q60,1050 70,960 L85,870 Q100,800 150,835 L478,1079 Z"/><text transform="translate(93.10,496.70) scale(0.9400,1)" font-size="36.00" font-weight="bold">0</text><text transform="translate(111.92,496.70) scale(0.9400,1)" font-size="36.00" font-weight="bold">0</text><text transform="translate(130.74,496.70) scale(0.9400,1)" font-size="36.00" font-weight="bold">0</text><text transform="translate(149.56,496.70) scale(0.9400,1)" font-size="36.00" font-weight="bold">0</text><text transform="translate(168.38,496.70) scale(0.9400,1)" font-size="36.00" font-weight="bold">0</text>
<line x1="211.0" y1="484.5" x2="211.0" y2="503" stroke="#000" stroke-width="4.6"/>
<path transform="translate(180.26,541.00) scale(0.016523,-0.017578)" d="M478,0 L781,0 L781,1409 L600,1409 L90,1075 Q60,1050 70,960 L85,870 Q100,800 150,835 L478,1079 Z"/><text transform="translate(199.08,541.00) scale(0.9400,1)" font-size="36.00" font-weight="bold">0</text>
<rect x="222.5" y="523.2" width="5.6" height="3.8" fill="#000"/>
<text transform="translate(229.50,530.60) scale(0.9200,1)" font-size="23.50" font-weight="bold">5</text>
<line x1="286.0" y1="484.5" x2="286.0" y2="503" stroke="#000" stroke-width="4.6"/>
<path transform="translate(255.29,541.00) scale(0.016523,-0.017578)" d="M478,0 L781,0 L781,1409 L600,1409 L90,1075 Q60,1050 70,960 L85,870 Q100,800 150,835 L478,1079 Z"/><text transform="translate(274.11,541.00) scale(0.9400,1)" font-size="36.00" font-weight="bold">0</text>
<rect x="297.5" y="523.2" width="5.6" height="3.8" fill="#000"/>
<text transform="translate(304.53,530.60) scale(0.9200,1)" font-size="23.50" font-weight="bold">4</text>
<line x1="361.1" y1="484.5" x2="361.1" y2="503" stroke="#000" stroke-width="4.6"/>
<path transform="translate(330.32,541.00) scale(0.016523,-0.017578)" d="M478,0 L781,0 L781,1409 L600,1409 L90,1075 Q60,1050 70,960 L85,870 Q100,800 150,835 L478,1079 Z"/><text transform="translate(349.14,541.00) scale(0.9400,1)" font-size="36.00" font-weight="bold">0</text>
<rect x="372.6" y="523.2" width="5.6" height="3.8" fill="#000"/>
<text transform="translate(379.56,530.60) scale(0.9200,1)" font-size="23.50" font-weight="bold">3</text>
<line x1="436.1" y1="484.5" x2="436.1" y2="503" stroke="#000" stroke-width="4.6"/>
<path transform="translate(405.35,541.00) scale(0.016523,-0.017578)" d="M478,0 L781,0 L781,1409 L600,1409 L90,1075 Q60,1050 70,960 L85,870 Q100,800 150,835 L478,1079 Z"/><text transform="translate(424.17,541.00) scale(0.9400,1)" font-size="36.00" font-weight="bold">0</text>
<rect x="447.6" y="523.2" width="5.6" height="3.8" fill="#000"/>
<text transform="translate(454.59,530.60) scale(0.9200,1)" font-size="23.50" font-weight="bold">2</text>
<line x1="511.1" y1="484.5" x2="511.1" y2="503" stroke="#000" stroke-width="4.6"/>
<path transform="translate(480.38,541.00) scale(0.016523,-0.017578)" d="M478,0 L781,0 L781,1409 L600,1409 L90,1075 Q60,1050 70,960 L85,870 Q100,800 150,835 L478,1079 Z"/><text transform="translate(499.20,541.00) scale(0.9400,1)" font-size="36.00" font-weight="bold">0</text>
<rect x="522.6" y="523.2" width="5.6" height="3.8" fill="#000"/>
<path transform="translate(529.62,530.60) scale(0.010557,-0.011475)" d="M478,0 L781,0 L781,1409 L600,1409 L90,1075 Q60,1050 70,960 L85,870 Q100,800 150,835 L478,1079 Z"/>
<line x1="586.1" y1="484.5" x2="586.1" y2="503" stroke="#000" stroke-width="4.6"/>
<path transform="translate(559.21,541.00) scale(0.016523,-0.017578)" d="M478,0 L781,0 L781,1409 L600,1409 L90,1075 Q60,1050 70,960 L85,870 Q100,800 150,835 L478,1079 Z"/><text transform="translate(578.03,541.00) scale(0.9400,1)" font-size="36.00" font-weight="bold">0</text>
<text transform="translate(599.95,530.60) scale(0.9200,1)" font-size="23.50" font-weight="bold">0</text>
<line x1="661.2" y1="484.5" x2="661.2" y2="503" stroke="#000" stroke-width="4.6"/>
<path transform="translate(634.24,541.00) scale(0.016523,-0.017578)" d="M478,0 L781,0 L781,1409 L600,1409 L90,1075 Q60,1050 70,960 L85,870 Q100,800 150,835 L478,1079 Z"/><text transform="translate(653.06,541.00) scale(0.9400,1)" font-size="36.00" font-weight="bold">0</text>
<path transform="translate(674.98,530.60) scale(0.010557,-0.011475)" d="M478,0 L781,0 L781,1409 L600,1409 L90,1075 Q60,1050 70,960 L85,870 Q100,800 150,835 L478,1079 Z"/>
<line x1="736.2" y1="484.5" x2="736.2" y2="503" stroke="#000" stroke-width="4.6"/>
<path transform="translate(709.27,541.00) scale(0.016523,-0.017578)" d="M478,0 L781,0 L781,1409 L600,1409 L90,1075 Q60,1050 70,960 L85,870 Q100,800 150,835 L478,1079 Z"/><text transform="translate(728.09,541.00) scale(0.9400,1)" font-size="36.00" font-weight="bold">0</text>
<text transform="translate(750.01,530.60) scale(0.9200,1)" font-size="23.50" font-weight="bold">2</text>
<line x1="811.2" y1="484.5" x2="811.2" y2="503" stroke="#000" stroke-width="4.6"/>
<path transform="translate(784.30,541.00) scale(0.016523,-0.017578)" d="M478,0 L781,0 L781,1409 L600,1409 L90,1075 Q60,1050 70,960 L85,870 Q100,800 150,835 L478,1079 Z"/><text transform="translate(803.12,541.00) scale(0.9400,1)" font-size="36.00" font-weight="bold">0</text>
<text transform="translate(825.04,530.60) scale(0.9200,1)" font-size="23.50" font-weight="bold">3</text>
<line x1="886.3" y1="484.5" x2="886.3" y2="503" stroke="#000" stroke-width="4.6"/>
<path transform="translate(859.33,541.00) scale(0.016523,-0.017578)" d="M478,0 L781,0 L781,1409 L600,1409 L90,1075 Q60,1050 70,960 L85,870 Q100,800 150,835 L478,1079 Z"/><text transform="translate(878.15,541.00) scale(0.9400,1)" font-size="36.00" font-weight="bold">0</text>
<text transform="translate(900.07,530.60) scale(0.9200,1)" font-size="23.50" font-weight="bold">4</text>
<text transform="translate(50.9,259.25) rotate(-90) scale(0.967,1)" font-size="38.5" font-weight="bold" text-anchor="middle">Mean RFU</text>
<text transform="translate(371.35,638.70) scale(1.0000,1)" font-size="38.40" text-anchor="start">IL-2,Human</text>
<text transform="translate(601.20,638.70) scale(1.0000,1)" font-size="38.75" text-anchor="start">ng/ml</text>
<path d="M588.6,610.3 A19,19 0 0 0 588.6,641.7" fill="none" stroke="#000" stroke-width="2.6" stroke-linecap="round"/>
<path d="M700,610.3 A19,19 0 0 1 700,641.7" fill="none" stroke="#000" stroke-width="2.6" stroke-linecap="round"/>
<line x1="999" y1="65.5" x2="1047" y2="65.5" stroke="#F2443F" stroke-width="1.9"/>
<circle cx="1023" cy="65.5" r="9.3" fill="#F2443F"/>
<line x1="1002" y1="126.7" x2="1049.5" y2="126.7" stroke="#3DA83A" stroke-width="2"/>
<rect x="1016.1" y="117.5" width="18.9" height="18.2" fill="#159A0C"/>
<line x1="1002" y1="187.6" x2="1051" y2="187.6" stroke="#000" stroke-width="2.5"/>
<path d="M1026.9,178.6 L1035,187.5 L1026.9,196.3 L1018.8,187.5Z" fill="#000"/>
<text transform="translate(1076.66,78.10) scale(0.9000,1)" font-size="48.00" text-anchor="start">Lot 1</text>
<text transform="translate(1076.66,138.65) scale(0.9000,1)" font-size="48.00" text-anchor="start">Lot 2</text>
<text transform="translate(1076.66,199.20) scale(0.9000,1)" font-size="48.00" text-anchor="start">Lot 3</text>
</svg></body></html>
